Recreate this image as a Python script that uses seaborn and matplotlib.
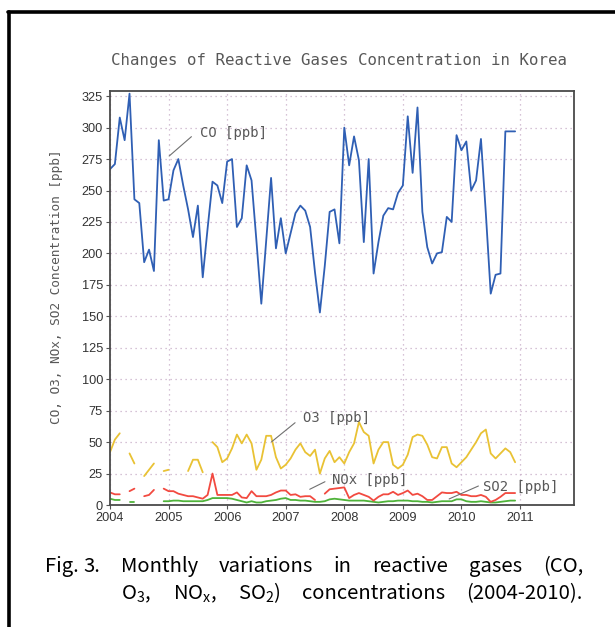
import numpy as np
import pandas as pd
import matplotlib
matplotlib.use("Agg")
import matplotlib.pyplot as plt
import seaborn as sns
from matplotlib.lines import Line2D

nan = np.nan
# ---------------- data (monthly, Jan 2004 - Dec 2010) ----------------
years = [2004, 2005, 2006, 2007, 2008, 2009, 2010, 2011]
yticks = [0, 25, 50, 75, 100, 125, 150, 175, 200, 225, 250, 275, 300, 325]

co = [267, 271, 308, 290, 327, 243, 240, 193, 203, 186, 290, 242,
      243, 266, 275, 254, 235, 213, 238, 181, 220, 257, 254, 240,
      273, 275, 221, 228, 270, 258, 210, 160, 210, 260, 204, 228,
      200, 216, 232, 238, 234, 221, 185, 153, 190, 233, 235, 208,
      300, 270, 293, 274, 209, 275, 184, 209, 230, 236, 235, 248,
      254, 309, 264, 316, 233, 205, 192, 200, 201, 229, 225, 294,
      282, 289, 250, 258, 291, 232, 168, 183, 184, 297, 297, 297]

o3 = [42, 52, 57, nan, 41, 33, nan, 23, 28, 33, nan, 27,
      28, nan, nan, nan, 27, 36, 36, 26, nan, 50, 46, 34,
      37, 45, 56, 49, 56, 49, 28, 36, 55, 55, 38, 29,
      32, 37, 44, 49, 42, 39, 44, 25, 37, 43, 34, 38,
      33, 42, 49, 66, 58, 55, 33, 44, 50, 50, 32, 29,
      32, 40, 54, 56, 55, 48, 38, 37, 46, 46, 33, 30,
      34, 38, 44, 50, 57, 60, 41, 37, 41, 45, 42, 34]

nox = [10, 8.5, 8.5, nan, 11, 13, nan, 7, 8, 12, nan, 13,
       11, 11, 9, 8, 7, 7, 6, 5, 8, 25, 8, 8,
       8, 8, 10, 6, 5.5, 11, 7, 7, 7, 8, 10, 11.5,
       11.5, 8, 8.5, 6.5, 7, 7, 4, nan, 9, 12.5, 13, 13.5,
       14, 5.5, 8, 9.5, 8, 6.5, 3.5, 6.5, 8.5, 8.5, 10.5, 8,
       9.5, 11.5, 8, 9, 7, 4, 4, 7, 10, 9.5, 9.5, 10.5,
       8, 8, 7, 7, 8, 6.5, 2.5, 4, 6.5, 9.5, 9.5, 9.5]

so2 = [5, 4, 4, nan, 2, 2, nan, nan, nan, nan, nan, 3,
       3, 3.5, 3.5, 3, 3, 3, 3, 3, 4, 5.5, 5.5, 5.5,
       5.5, 5, 4, 3, 2, 3, 2, 2, 3, 3.5, 4, 5,
       5.5, 4, 4, 3.5, 3.5, 3, 2.5, 2.5, 3, 4.5, 5, 4.5,
       4, 3.5, 3.5, 3.5, 3.5, 3, 2.5, 2, 2.5, 3, 3, 3.5,
       3.5, 3.5, 3, 3, 2.5, 2.5, 2, 2.5, 3, 3, 3, 4.5,
       4.5, 3, 2.5, 2.5, 3, 2.5, 2, 2, 2.5, 3, 3.5, 3.5]

series_names = ["CO", "O3", "NOx", "SO2"]
series_colors = ["#2f5fb4", "#e9c234", "#f24a40", "#4fb33a"]

t = 2004 + np.arange(len(co)) / 12.0


def to_frame(name, vals):
    v = np.asarray(vals, dtype=float)
    ok = ~np.isnan(v)
    seg = np.cumsum(np.r_[True, ok[1:] != ok[:-1]])
    return pd.DataFrame({"t": t[ok], "v": v[ok], "seg": seg[ok], "gas": name})


frames = [to_frame(n, s) for n, s in zip(series_names, [co, o3, nox, so2])]

# ---------------- figure ----------------
sns.set_theme(style="white")
plt.rcParams["font.family"] = ["Liberation Sans", "DejaVu Sans"]
plt.rcParams["mathtext.fontset"] = "custom"
plt.rcParams["mathtext.rm"] = "Noto Sans CJK KR"

fig = plt.figure(figsize=(6.15, 6.27), dpi=100)
fig.patch.set_facecolor("white")
W, H = 615, 627
ax = fig.add_axes([110 / W, 1 - 505 / H, (574 - 110) / W, (505 - 91) / H])

for df, col in zip(frames[::-1], series_colors[::-1]):
    sns.lineplot(data=df, x="t", y="v", units="seg", estimator=None,
                 color=col, lw=1.3, ax=ax, legend=False)

ax.set_xlim(2004, 2011.922)
ax.set_ylim(0, 329.1)
ax.set_xticks(years)
ax.set_xticklabels([str(y) for y in years])
ax.set_yticks(yticks)
ax.set_yticklabels([str(y) for y in yticks])
ax.set_xlabel("")
ax.set_ylabel("")
ax.tick_params(axis="both", which="both", direction="out", length=3, width=0.8,
               color="#555555", labelsize=9.2, labelcolor="#333333", pad=2,
               bottom=True, left=True)
ax.grid(True, which="major", color="#c9aec9", linestyle=(0, (1, 3)), lw=0.9)
for sp in ax.spines.values():
    sp.set_visible(True)
    sp.set_color("#4a4a4a")
    sp.set_linewidth(1.3)

mono = "DejaVu Sans Mono"
tc = "#585858"
# annotations
ax.plot([2005.01, 2005.39], [277.4, 292.8], color="#707070", lw=0.8)
ax.text(2005.54, 295.7, "CO [ppb]", family=mono, fontsize=10, color=tc, va="center")
ax.plot([2006.76, 2007.16], [50.3, 65.4], color="#707070", lw=0.8)
ax.text(2007.29, 68.9, "O3 [ppb]", family=mono, fontsize=10, color=tc, va="center")
ax.plot([2007.41, 2007.67], [12.5, 18.5], color="#707070", lw=0.8)
ax.text(2007.785, 19.9, "NOx [ppb]", family=mono, fontsize=10, color=tc, va="center")
ax.plot([2009.79, 2010.29], [4.8, 15.1], color="#707070", lw=0.8)
ax.text(2010.37, 14.5, "SO2 [ppb]", family=mono, fontsize=10, color=tc, va="center")

# title and y label
fig.text(339 / W, 1 - 60 / H, "Changes of Reactive Gases Concentration in Korea",
         family=mono, fontsize=11.3, color=tc, ha="center", va="center")
fig.text(57 / W, 1 - 287 / H, "CO, O3, NOx, SO2 Concentration [ppb]",
         family=mono, fontsize=9.2, color=tc, ha="center", va="center",
         rotation=90)

# frame lines (top and left)
fig.add_artist(Line2D([8 / W, 1.0], [1 - 12 / H, 1 - 12 / H], color="black", lw=2.6,
                      transform=fig.transFigure))
fig.add_artist(Line2D([9 / W, 9 / W], [1 - 12 / H, 0], color="black", lw=2.6,
                      transform=fig.transFigure))

# caption, justified
cap_font = dict(family=["Noto Sans CJK KR", "DejaVu Sans"], fontsize=14.6, color="black",
                va="baseline")
renderer = fig.canvas.get_renderer()


def justify(words, x0, x1, ybase):
    arts = [fig.text(0, 1 - ybase / H, w, ha="left", **cap_font) for w in words]
    widths = [a.get_window_extent(renderer).width for a in arts]
    gap = (x1 - x0 - sum(widths)) / (len(words) - 1)
    x = x0
    for a, w in zip(arts, widths):
        a.set_x(x / W)
        x += w + gap


justify(["Fig.", "3."], 45, 100, 572)
justify(["Monthly", "variations", "in", "reactive", "gases", "(CO,"], 121, 583, 572)
justify([r"O$_\mathregular{3}$,", r"NO$_\mathregular{x}$,", r"SO$_\mathregular{2}$)",
         "concentrations", "(2004-2010)."], 121, 583, 599)

fig.savefig("out.png", dpi=100, facecolor="white")
